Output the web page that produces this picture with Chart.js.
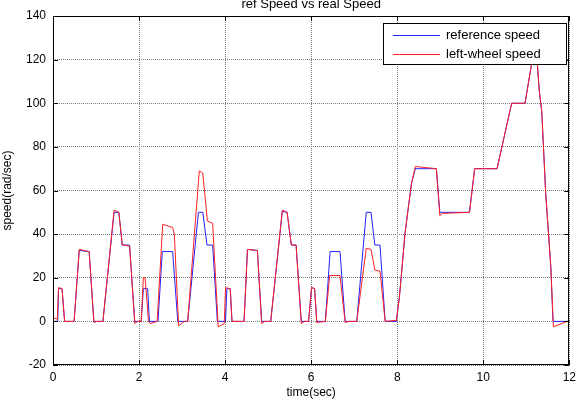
<!DOCTYPE html>
<html>
<head>
<meta charset="utf-8">
<script src="https://cdn.jsdelivr.net/npm/chart.js@4/dist/chart.umd.min.js"></script>
<style>
  html, body { margin: 0; padding: 0; background: #fff; }
</style>
</head>
<body>
<canvas id="speedChart" width="581" height="400"></canvas>
<script>
// valores
const chartTitle = "ref Speed vs real Speed";
const refLabel = "reference speed";
const wheelLabel = "left-wheel speed";

const refTime = [0, 0.11, 0.13, 0.21, 0.27, 0.49, 0.61, 0.84, 0.95, 1.16, 1.42, 1.53, 1.61, 1.78, 1.90,
  2.05, 2.10, 2.20, 2.24, 2.44, 2.54, 2.78, 2.90, 3.13, 3.38, 3.48, 3.58, 3.71, 3.82,
  4.01, 4.04, 4.12, 4.16, 4.44, 4.52, 4.75, 4.85, 5.06, 5.33, 5.44, 5.54, 5.65, 5.77,
  5.94, 6.01, 6.08, 6.13, 6.33, 6.44, 6.67, 6.79, 7.06, 7.28, 7.39, 7.48, 7.60, 7.72,
  7.98, 8.05, 8.10, 8.18, 8.25, 8.33, 8.42, 8.91, 8.99, 9.68, 9.80, 10.32, 10.66, 10.97,
  11.14, 11.25, 11.30, 11.36, 11.45, 11.57, 11.62, 12];
const refSpeed = [0, 0, 15, 15, 0, 0, 32.5, 32, 0, 0, 50, 50, 35, 35, 0,
  0, 15, 15, 0, 0, 32, 32, 0, 0, 50, 50, 35, 35, 0,
  0, 15, 15, 0, 0, 33, 32.5, 0, 0, 50.5, 50, 35, 35, 0,
  0, 15.5, 15, 0, 0, 32, 32, 0, 0, 50, 50, 35, 35, 0,
  0, 11, 22, 40, 51, 63, 70, 70, 50, 50, 70, 70, 100, 100,
  120, 120, 106, 96, 59, 25, 0, 0];

const wheelTime = [0, 0.05, 0.10, 0.13, 0.21, 0.27, 0.49, 0.61, 0.84, 0.95, 1.02, 1.16, 1.42, 1.53, 1.61, 1.78, 1.90, 1.97,
  2.05, 2.10, 2.14, 2.22, 2.26, 2.42, 2.55, 2.78, 2.82, 2.92, 3.05, 3.13, 3.40, 3.48, 3.59, 3.71, 3.84, 3.98,
  4.01, 4.12, 4.16, 4.44, 4.52, 4.75, 4.85, 4.92, 5.06, 5.33, 5.44, 5.54, 5.65, 5.77, 5.84,
  5.94, 6.01, 6.08, 6.13, 6.33, 6.43, 6.67, 6.79, 6.88, 7.06, 7.28, 7.39, 7.48, 7.60, 7.72,
  7.98, 8.05, 8.10, 8.18, 8.25, 8.33, 8.42, 8.91, 8.99, 9.05, 9.68, 9.80, 10.32, 10.66, 10.97,
  11.14, 11.25, 11.30, 11.36, 11.45, 11.57, 11.63, 11.95, 12];
const wheelSpeed = [1, 1.5, 1, 15.5, 15, 0, 0, 33, 32, -0.5, 0, 0, 51, 50, 35, 34.5, -1, 0,
  0, 20, 20, 0, -1, 0, 44.5, 43, 40, -2, 0, 0, 69, 68, 46, 45, -2.5, -1,
  15.5, 15, 0, 0, 33, 32.5, -1, 0, 0, 51, 50, 35, 35, -1, 0,
  0, 15.5, 15, -0.5, 0, 21, 21, -0.5, 0, 0, 33.5, 33, 23.5, 23, 0,
  0.5, 11, 22, 40, 51, 63, 71, 70, 48.5, 49.5, 50, 70, 70, 100, 100,
  120, 120, 106, 96, 59, 25, -2.5, 0, 0];

const refColor = "#2020ff";
const wheelColor = "#ff2020";
const font = "'Liberation Sans', Arial, sans-serif";

// marco negro, marcas hacia adentro, titulo y leyenda al estilo matlab
const matlabFrame = {
  id: "matlabFrame",
  afterDatasetsDraw(chart) {
    const ctx = chart.ctx;
    const a = chart.chartArea;
    const xs = chart.scales.x, ys = chart.scales.y;
    ctx.save();
    ctx.strokeStyle = "#000";
    ctx.lineWidth = 1;
    ctx.strokeRect(Math.round(a.left) + 0.5, Math.round(a.top) + 0.5,
      Math.round(a.right - a.left) - 1, Math.round(a.bottom - a.top) - 1);
    ctx.beginPath();
    xs.ticks.forEach(t => {
      const px = Math.round(xs.getPixelForValue(t.value)) + 0.5;
      ctx.moveTo(px, a.bottom); ctx.lineTo(px, a.bottom - 5);
      ctx.moveTo(px, a.top); ctx.lineTo(px, a.top + 5);
    });
    ys.ticks.forEach(t => {
      const py = Math.round(ys.getPixelForValue(t.value)) + 0.5;
      ctx.moveTo(a.left, py); ctx.lineTo(a.left + 5, py);
      ctx.moveTo(a.right, py); ctx.lineTo(a.right - 5, py);
    });
    ctx.stroke();

    // titulo (cortado arriba como en la figura)
    ctx.fillStyle = "#000";
    ctx.font = "13px " + font;
    ctx.textAlign = "center";
    ctx.textBaseline = "alphabetic";
    ctx.fillText(chartTitle, (a.left + a.right) / 2, 8);

    // leyenda
    const bx = 383.5, by = 23.5, bw = 183, bh = 41;
    ctx.fillStyle = "#fff";
    ctx.fillRect(bx, by, bw, bh);
    ctx.strokeStyle = "#000";
    ctx.strokeRect(bx, by, bw, bh);
    ctx.font = "13px " + font;
    ctx.textAlign = "left";
    ctx.textBaseline = "middle";
    chart.data.datasets.forEach((ds, i) => {
      const y = 35.5 + i * 19;
      ctx.strokeStyle = ds.borderColor;
      ctx.beginPath();
      ctx.moveTo(393, y); ctx.lineTo(440, y);
      ctx.stroke();
      ctx.fillStyle = "#000";
      ctx.fillText(ds.label, 446, y);
    });
    ctx.restore();
  }
};

const gridStyle = {
  color: "#7a7a7a",
  lineWidth: 1,
  drawTicks: false
};

new Chart(document.getElementById("speedChart"), {
  type: "line",
  data: {
    datasets: [
      {
        label: refLabel,
        data: refTime.map((t, i) => ({ x: t, y: refSpeed[i] })),
        borderColor: refColor,
        borderWidth: 1,
        pointRadius: 0,
        fill: false,
        order: 1
      },
      {
        label: wheelLabel,
        data: wheelTime.map((t, i) => ({ x: t, y: wheelSpeed[i] })),
        borderColor: wheelColor,
        borderWidth: 1,
        pointRadius: 0,
        fill: false,
        order: 0
      }
    ]
  },
  options: {
    responsive: false,
    animation: false,
    layout: { padding: { top: 16, right: 6, left: 0, bottom: 0 } },
    plugins: {
      legend: { display: false },
      title: { display: false },
      tooltip: { enabled: false }
    },
    scales: {
      x: {
        type: "linear",
        min: 0,
        max: 12,
        grid: gridStyle,
        border: { display: false, dash: [1, 1] },
        ticks: { stepSize: 2, color: "#000", font: { family: font, size: 12 }, padding: 5, maxRotation: 0 },
        title: { display: true, text: "time(sec)", color: "#000", font: { family: font, size: 12 }, padding: 0 },
        afterFit(s) { s.height = 35; }
      },
      y: {
        type: "linear",
        min: -20,
        max: 140,
        grid: gridStyle,
        border: { display: false, dash: [1, 1] },
        ticks: { stepSize: 20, color: "#000", font: { family: font, size: 12 }, padding: 7 },
        title: { display: true, text: "speed(rad/sec)", color: "#000", font: { family: font, size: 12 }, padding: 0 },
        afterFit(s) { s.width = 53; }
      }
    }
  },
  plugins: [matlabFrame]
});
</script>
</body>
</html>
